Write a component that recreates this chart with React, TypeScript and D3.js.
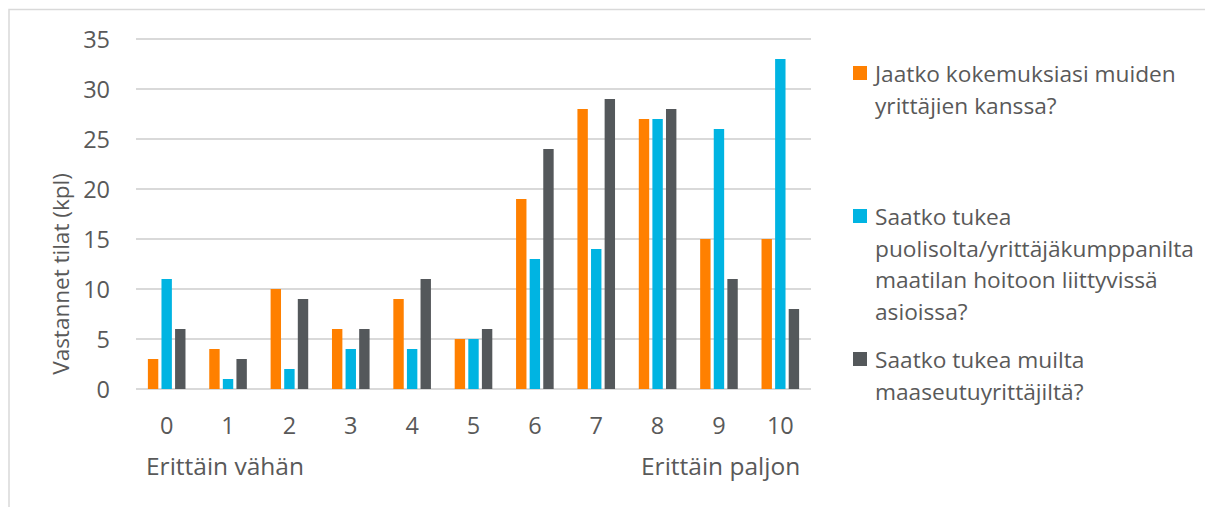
import React from "react";
import * as d3 from "d3";

const categories = ["0", "1", "2", "3", "4", "5", "6", "7", "8", "9", "10"];
const seriesNames = [
  "Jaatko kokemuksiasi muiden yrittäjien kanssa?",
  "Saatko tukea puolisolta/yrittäjäkumppanilta maatilan hoitoon liittyvissä asioissa?",
  "Saatko tukea muilta maaseutuyrittäjiltä?",
];
const legendLines = [
  ["Jaatko kokemuksiasi muiden", "yrittäjien kanssa?"],
  ["Saatko tukea", "puolisolta/yrittäjäkumppanilta", "maatilan hoitoon liittyvissä", "asioissa?"],
  ["Saatko tukea muilta", "maaseutuyrittäjiltä?"],
];
const seriesJaatko = [3, 4, 10, 6, 9, 5, 19, 28, 27, 15, 15];
const seriesPuoliso = [11, 1, 2, 4, 4, 5, 13, 14, 27, 26, 33];
const seriesMuut = [6, 3, 9, 6, 11, 6, 24, 29, 28, 11, 8];
const yTicks = [0, 5, 10, 15, 20, 25, 30, 35];
const colors = ["#FF8000", "#00B4E2", "#54585B"];
const yTitle = "Vastannet tilat (kpl)";
const lowLabel = "Erittäin vähän";
const highLabel = "Erittäin paljon";

const W = 1205;
const H = 507;
const FONT = "'Open Sans', 'DejaVu Sans', sans-serif";
const TXT = "#595959";
const FS_TICK = 23.5;
const FS_END = 24.5;
const FS_LEG = 22.7;
const FS_TITLE = 22.5;

export default function App() {
  const allSeries = [seriesJaatko, seriesPuoliso, seriesMuut];
  const x = d3.scaleBand<string>().domain(categories).range([136, 811]).padding(0);
  const groupW = 37.6;
  const xs = d3
    .scaleBand<number>()
    .domain([0, 1, 2])
    .range([0, groupW])
    .paddingInner(0.235)
    .paddingOuter(0);
  const y = d3.scaleLinear().domain([0, 35]).range([389, 39]);

  const legendTop = [66, 209, 352];

  return (
    <div style={{ position: "fixed", left: 0, top: 0 }}>
      <svg width={W} height={H} style={{ display: "block", background: "#fff" }} fontFamily={FONT}>
        <rect x={9} y={9.5} width={W + 20} height={H + 20} fill="#fff" stroke="#d9d9d9" strokeWidth={1.5} />
        {yTicks.map((t) => (
          <g key={t}>
            <line x1={136} x2={811} y1={y(t)} y2={y(t)} stroke="#d9d9d9" strokeWidth={2} />
            <text x={110} y={y(t)} textAnchor="end" dominantBaseline="central" fontSize={FS_TICK} fill={TXT}>
              {t}
            </text>
          </g>
        ))}
        {allSeries.map((vals, si) =>
          vals.map((v, ci) => {
            const cx = (x(categories[ci]) as number) + x.bandwidth() / 2 - groupW / 2;
            return (
              <rect
                key={`${si}-${ci}`}
                x={cx + (xs(si) as number)}
                y={y(v)}
                width={xs.bandwidth()}
                height={y(0) - y(v)}
                fill={colors[si]}
              />
            );
          })
        )}
        {categories.map((c) => (
          <text
            key={c}
            x={(x(c) as number) + x.bandwidth() / 2}
            y={425}
            textAnchor="middle"
            dominantBaseline="central"
            fontSize={FS_TICK}
            fill={TXT}
          >
            {c}
          </text>
        ))}
        <text x={146} y={475} fontSize={FS_END} fill={TXT}>
          {lowLabel}
        </text>
        <text x={641} y={475} fontSize={FS_END} fill={TXT}>
          {highLabel}
        </text>
        <text
          transform={`translate(60,274) rotate(-90)`}
          textAnchor="middle"
          dominantBaseline="central"
          fontSize={FS_TITLE}
          fill={TXT}
        >
          {yTitle}
        </text>
        {seriesNames.map((name, si) => (
          <g key={name}>
            <rect x={853} y={legendTop[si]} width={14} height={14} fill={colors[si]} />
            {legendLines[si].map((ln, li) => (
              <text key={li} x={875} y={legendTop[si] + 16 + li * 31.7} fontSize={FS_LEG} fill={TXT}>
                {ln}
              </text>
            ))}
          </g>
        ))}
      </svg>
    </div>
  );
}
